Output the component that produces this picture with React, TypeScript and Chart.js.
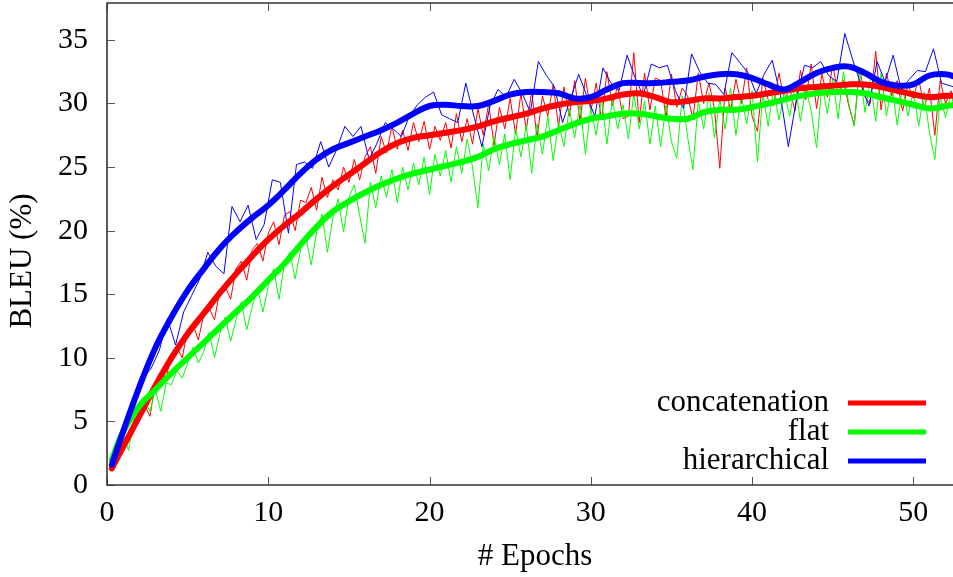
import React, { useEffect, useRef } from "react";
import { Chart, registerables } from "chart.js";

Chart.register(...registerables);

// ---- Data ----
const seriesLabels = ["concatenation", "flat", "hierarchical"];
const seriesColors = ["#ff0000", "#00ff00", "#0000ff"];

const xTickValues = [0, 10, 20, 30, 40, 50];
const yTickValues = [0, 5, 10, 15, 20, 25, 30, 35];

// raw evaluations for concatenation & flat: 3 per epoch (x = 1/3, 2/3, 1, ...)
const concatRaw = [
  1.4, 2.2, 3.0, 3.9, 4.6, 5.6, 6.3, 5.4, 8.1, 8.8, 8.4, 10.3,
  10.8, 10.0, 12.2, 12.6, 11.4, 13.4, 13.9, 13.0, 15.3, 15.6, 14.6, 17.0,
  17.6, 16.1, 18.5, 19.0, 17.6, 19.8, 20.7, 18.9, 21.2, 21.5, 20.0, 22.4,
  22.2, 23.4, 21.6, 24.2, 22.6, 24.0, 23.2, 25.0, 23.8, 25.6, 24.0, 25.8,
  26.6, 24.5, 27.4, 26.1, 28.2, 26.4, 27.9, 26.3, 28.5, 27.0, 28.6, 26.4,
  28.2, 27.1, 28.5, 26.5, 29.2, 27.0, 28.8, 26.8, 29.6, 27.5, 30.0, 26.7,
  29.7, 28.0, 30.4, 27.6, 30.8, 27.9, 31.0, 27.3, 30.6, 29.0, 31.5, 28.2,
  31.3, 29.0, 31.8, 28.6, 32.0, 29.4, 31.6, 28.7, 32.5, 29.8, 31.4, 28.8,
  29.0, 34.0, 28.5, 32.4, 29.5, 32.0, 31.8, 28.9, 32.3, 29.7, 31.2, 30.6,
  28.8, 32.4, 30.0, 31.6, 29.6, 24.9, 31.2, 29.5, 31.9, 30.0, 32.8, 29.0,
  27.8, 32.0, 30.3, 29.8, 32.4, 30.2, 31.2, 29.4, 32.6, 30.3, 33.1, 29.6,
  32.3, 30.5, 33.0, 30.8, 31.8, 29.8, 28.3, 32.8, 30.5, 30.0, 34.1, 29.5,
  32.4, 30.6, 31.8, 29.4, 31.5, 30.4, 32.0, 29.6, 31.2, 27.5, 31.8, 30.0,
  31.0, 29.7,
];

const flatRaw = [
  2.2, 3.0, 4.0, 2.7, 5.2, 6.1, 6.6, 5.8, 7.5, 5.8, 8.0, 7.9,
  9.0, 8.4, 9.6, 10.8, 9.6, 10.5, 12.0, 10.0, 11.9, 13.2, 11.3, 13.0,
  14.4, 12.2, 14.0, 15.5, 13.6, 15.6, 17.0, 14.6, 17.4, 18.3, 16.2, 18.5,
  19.5, 17.3, 19.9, 21.3, 18.3, 21.0, 22.5, 19.9, 22.6, 23.6, 21.2, 19.0,
  23.8, 21.8, 24.3, 22.6, 24.8, 22.2, 25.0, 23.2, 25.3, 23.6, 25.8, 22.8,
  26.0, 24.3, 26.3, 23.8, 26.6, 24.5, 27.2, 25.0, 21.8, 26.8, 24.7, 27.4,
  25.2, 27.6, 24.0, 28.0, 25.8, 28.3, 24.5, 28.4, 26.0, 29.0, 25.5, 28.5,
  26.6, 29.6, 27.3, 30.0, 26.0, 29.6, 27.5, 30.4, 26.8, 30.3, 28.0, 29.9,
  27.2, 30.8, 28.0, 30.2, 26.8, 29.8, 26.6, 29.9, 27.0, 25.7, 30.6, 27.4,
  24.8, 30.2, 28.0, 30.8, 27.3, 30.3, 28.0, 31.2, 27.5, 30.6, 28.4, 31.0,
  25.4, 30.8, 28.2, 31.3, 28.7, 30.9, 29.0, 31.5, 28.6, 31.2, 29.4, 26.5,
  31.6, 29.2, 32.0, 28.8, 32.5, 30.0, 28.2, 32.8, 29.3, 31.8, 28.6, 32.4,
  29.0, 31.5, 28.3, 31.3, 29.0, 31.0, 28.2, 30.9, 27.7, 25.6, 30.5, 28.9,
  30.8, 29.0,
];

// raw evaluations for hierarchical: 2 per epoch (x = 0.25, 0.75, 1.25, ...)
const hierRaw = [
  1.6, 3.2, 4.9, 6.8, 8.4, 9.2, 10.6, 13.1, 11.0, 13.6, 14.9, 16.2,
  18.3, 17.2, 16.6, 21.9, 20.7, 22.0, 19.3, 20.5, 24.0, 23.8, 19.8, 25.2,
  25.4, 24.9, 27.0, 25.0, 26.4, 28.2, 27.4, 28.2, 25.6, 26.9, 28.5, 28.0,
  27.4, 29.0, 29.9, 30.5, 30.9, 29.1, 28.8, 28.5, 31.6, 29.0, 26.6, 29.8,
  31.1, 30.5, 31.9, 30.8, 29.3, 33.3, 32.2, 31.3, 28.5, 30.4, 32.3, 30.6,
  29.0, 32.8, 31.6, 31.0, 33.8, 32.0, 30.6, 33.1, 32.8, 33.0, 31.0, 29.6,
  33.9, 32.5, 31.6, 31.5, 30.7, 34.0, 33.2, 32.4, 30.8, 32.3, 33.4, 30.7,
  26.6, 30.3, 33.0, 32.8, 33.3, 32.2, 31.7, 35.5, 33.4, 31.5, 29.8, 33.3,
  31.7, 33.8, 31.1, 31.9, 32.6, 32.5, 34.3, 31.6, 31.4, 31.2,
];

// smoothed curves
const smoothEpochs = [
  0.3, 1, 2, 3, 4, 5, 6, 7, 8, 9, 10, 11, 12, 13, 14, 15, 16, 17, 18, 19, 20,
  21, 22, 23, 24, 25, 26, 27, 28, 29, 30, 31, 32, 33, 34, 35, 36, 37, 38, 39,
  40, 41, 42, 43, 44, 45, 46, 47, 48, 49, 50, 51, 52, 52.6,
];
const concatSmooth = [
  1.3, 3.0, 5.4, 7.8, 10.0, 11.9, 13.5, 15.1, 16.6, 18.0, 19.3, 20.4, 21.4,
  22.5, 23.5, 24.4, 25.3, 26.2, 26.9, 27.3, 27.5, 27.7, 27.9, 28.2, 28.6, 28.9,
  29.2, 29.6, 29.9, 30.1, 30.2, 30.4, 30.7, 30.8, 30.5, 30.1, 30.2, 30.4, 30.4,
  30.5, 30.6, 30.8, 31.0, 31.2, 31.3, 31.4, 31.5, 31.5, 31.3, 31.0, 30.7, 30.5,
  30.6, 30.6,
];
const flatSmooth = [
  2.0, 4.2, 6.2, 7.5, 8.8, 10.0, 11.2, 12.4, 13.6, 14.8, 16.1, 17.4, 18.9,
  20.3, 21.5, 22.3, 23.0, 23.6, 24.1, 24.5, 24.8, 25.1, 25.4, 25.8, 26.4, 26.8,
  27.1, 27.4, 27.9, 28.4, 28.8, 29.0, 29.2, 29.2, 29.0, 28.8, 28.8, 29.3, 29.5,
  29.5, 29.7, 30.0, 30.3, 30.6, 30.8, 30.9, 30.9, 30.8, 30.5, 30.2, 29.9, 29.6,
  29.8, 29.9,
];
const hierSmooth = [
  1.6, 4.2, 7.7, 10.8, 13.2, 15.3, 17.0, 18.6, 19.9, 21.0, 22.0, 23.2, 24.5,
  25.6, 26.4, 26.9, 27.4, 27.9, 28.5, 29.2, 29.8, 29.9, 29.8, 29.8, 30.2, 30.7,
  30.9, 30.9, 30.8, 30.4, 30.5, 31.1, 31.6, 31.6, 31.6, 31.7, 31.8, 32.1, 32.3,
  32.3, 32.0, 31.5, 31.1, 31.7, 32.4, 32.8, 32.9, 32.4, 31.7, 31.4, 31.5, 32.2,
  32.3, 32.1,
];

const xTitle = "# Epochs";
const yTitle = "BLEU (%)";

const FONT = "'Liberation Serif', 'Times New Roman', serif";

const toPoints = (ys: number[], xOf: (i: number) => number) =>
  ys.map((y, i) => ({ x: xOf(i), y }));

const framePlugin = {
  id: "frame",
  beforeDatasetsDraw(chart: any) {
    const { ctx, chartArea } = chart;
    const xs = chart.scales.x;
    const ys = chart.scales.y;
    const { left, right, top, bottom } = chartArea;
    ctx.save();
    ctx.strokeStyle = "#555555";
    ctx.lineWidth = 1;
    const tl = 8;
    xTickValues.forEach((v) => {
      const px = Math.round(xs.getPixelForValue(v)) + 0.5;
      ctx.beginPath();
      ctx.moveTo(px, bottom);
      ctx.lineTo(px, bottom - tl);
      ctx.moveTo(px, top);
      ctx.lineTo(px, top + tl);
      ctx.stroke();
    });
    yTickValues.forEach((v) => {
      const py = Math.round(ys.getPixelForValue(v)) + 0.5;
      ctx.beginPath();
      ctx.moveTo(left, py);
      ctx.lineTo(left + tl, py);
      ctx.stroke();
    });
    ctx.strokeStyle = "#333333";
    ctx.lineWidth = 1.6;
    ctx.beginPath();
    ctx.moveTo(right, top);
    ctx.lineTo(left, top);
    ctx.lineTo(left, bottom);
    ctx.lineTo(right, bottom);
    ctx.stroke();
    ctx.restore();
  },
  afterDraw(chart: any) {
    const { ctx } = chart;
    ctx.save();
    ctx.fillStyle = "#000";
    ctx.font = `31px ${FONT}`;
    ctx.textAlign = "center";
    ctx.textBaseline = "middle";
    ctx.fillText(xTitle, 535, 557);
    ctx.translate(23, 261);
    ctx.rotate(-Math.PI / 2);
    ctx.fillText(yTitle, 0, 0);
    ctx.restore();

    ctx.save();
    ctx.font = `31px ${FONT}`;
    ctx.textAlign = "right";
    ctx.textBaseline = "alphabetic";
    const baselines = [411, 440, 469];
    seriesLabels.forEach((lab, i) => {
      ctx.fillStyle = "#000";
      ctx.fillText(lab, 829, baselines[i]);
      ctx.strokeStyle = seriesColors[i];
      ctx.lineWidth = 5;
      ctx.beginPath();
      const ly = baselines[i] - 8;
      ctx.moveTo(848, ly);
      ctx.lineTo(926, ly);
      ctx.stroke();
    });
    ctx.restore();
  },
};

export default function App() {
  const ref = useRef<HTMLCanvasElement | null>(null);

  useEffect(() => {
    document.body.style.margin = "0";
    if (!ref.current) return;
    const third = (i: number) => (i + 1) / 3;
    const half = (i: number) => 0.25 + i * 0.5;
    const sm = (i: number) => smoothEpochs[i];

    const raws = [
      toPoints(concatRaw, third),
      toPoints(flatRaw, third),
      toPoints(hierRaw, half),
    ];
    const smooths = [
      toPoints(concatSmooth, sm),
      toPoints(flatSmooth, sm),
      toPoints(hierSmooth, sm),
    ];

    const datasets: any[] = [];
    raws.forEach((d, i) => {
      datasets.push({
        label: seriesLabels[i] + " raw",
        data: d,
        borderColor: seriesColors[i],
        borderWidth: 1,
        pointRadius: 0,
        tension: 0,
        fill: false,
        order: 5 - i,
      });
    });
    smooths.forEach((d, i) => {
      datasets.push({
        label: seriesLabels[i],
        data: d,
        borderColor: seriesColors[i],
        borderWidth: 6,
        borderCapStyle: "round",
        borderJoinStyle: "round",
        pointRadius: 0,
        tension: 0.4,
        fill: false,
        order: 2 - i,
      });
    });

    const chart = new Chart(ref.current, {
      type: "line",
      data: { datasets },
      options: {
        responsive: false,
        animation: false,
        devicePixelRatio: 1,
        layout: { padding: { top: 3, right: 0, left: 0, bottom: 0 } },
        plugins: {
          legend: { display: false },
          tooltip: { enabled: false },
        },
        scales: {
          x: {
            type: "linear",
            min: 0,
            max: 52.46,
            grid: { display: false, drawTicks: false },
            border: { display: false },
            afterFit: (s: any) => {
              s.height = 92;
              s.paddingLeft = 0;
              s.paddingRight = 0;
            },
            afterBuildTicks: (s: any) => {
              s.ticks = xTickValues.map((v) => ({ value: v }));
            },
            ticks: {
              padding: 10,
              maxRotation: 0,
              color: "#000",
              font: { family: FONT, size: 30 },
              callback: (v: any) => String(v),
            },
          },
          y: {
            type: "linear",
            min: 0,
            max: 37.9,
            grid: { display: false, drawTicks: false },
            border: { display: false },
            afterFit: (s: any) => {
              s.width = 107;
              s.paddingTop = 0;
              s.paddingBottom = 0;
            },
            afterBuildTicks: (s: any) => {
              s.ticks = yTickValues.map((v) => ({ value: v }));
            },
            ticks: {
              padding: 19,
              color: "#000",
              font: { family: FONT, size: 30 },
              callback: (v: any) => String(v),
            },
          },
        },
      } as any,
      plugins: [framePlugin],
    });
    return () => chart.destroy();
  }, []);

  return (
    <div style={{ width: 953, height: 577 }}>
      <canvas ref={ref} width={953} height={577} style={{ display: "block" }} />
    </div>
  );
}
